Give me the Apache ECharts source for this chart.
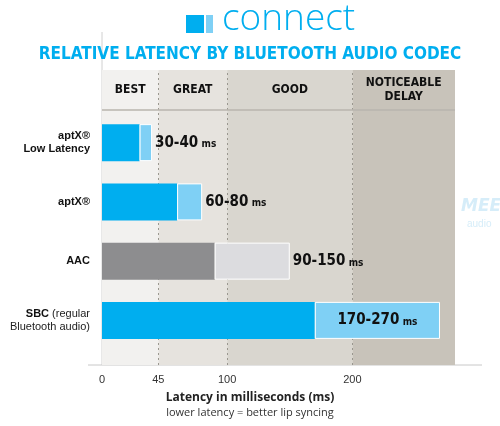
<!DOCTYPE html>
<html>
<head>
<meta charset="UTF-8">
<script src="https://cdn.jsdelivr.net/npm/echarts@6/dist/echarts.min.js"></script>
<style>body{margin:0;background:#fff}#main{width:500px;height:426px}</style>
</head>
<body>
<div id="main"></div>
<script>
var codecs = ['aptX®\nLow Latency', 'aptX®', 'AAC', 'SBC'];
var codecNotes = ['', '', '', ' (regular\nBluetooth audio)'];
var lowMs = [30, 60, 90, 170];
var highMs = [40, 80, 150, 270];
var zones = [['BEST', 0, 45], ['GREAT', 45, 100], ['GOOD', 100, 200], ['NOTICEABLE\nDELAY', 200, 282]];
var zoneColors = ['#f2f1ef', '#e6e3de', '#d9d6cf', '#c8c3ba'];
var ticks = [0, 45, 100, 200];

var cond = '"DejaVu Sans Condensed", "Liberation Sans Narrow", sans-serif';
var chart = echarts.init(document.getElementById('main'));

var bandData = zones.map(function (z, i) {
    return [{xAxis: z[1], itemStyle: {color: zoneColors[i]}}, {xAxis: z[2]}];
});
var headData = zones.map(function (z, i) {
    return [{xAxis: z[1], name: z[0], itemStyle: {color: zoneColors[i]}}, {xAxis: z[2]}];
});
var dashes = ticks.slice(1).map(function (t) { return {xAxis: t}; });
var dashStyle = {color: '#9a978f', type: [2, 3], width: 1};

var darkColors = ['#00aeef', '#00aeef', '#8d8d8f', '#00aeef'];
var lightColors = ['#7fd0f5', '#7fd0f5', '#dcdcdf', '#7fd0f5'];

chart.setOption({
    animation: false,
    title: {
        text: 'RELATIVE LATENCY BY BLUETOOTH AUDIO CODEC',
        left: 'center', top: 41,
        textStyle: {color: '#00aeef', fontFamily: cond, fontWeight: 'bold', fontSize: 17}
    },
    graphic: [
        {type: 'rect', shape: {x: 186, y: 15, width: 18, height: 18}, style: {fill: '#00aeef'}},
        {type: 'rect', shape: {x: 206, y: 15, width: 7, height: 18}, style: {fill: '#7fd0f5'}},
        {type: 'text', left: 222, top: 1, style: {text: 'connect', fill: '#00aeef', font: '300 37px "Open Sans", sans-serif'}},
        {type: 'text', left: 461, top: 198, style: {text: 'MEE', fill: '#d6edf9', font: 'italic bold 17px "DejaVu Sans", sans-serif'}},
        {type: 'text', left: 467, top: 219, style: {text: 'audio', fill: '#d6edf9', font: '10px sans-serif'}},
        {type: 'line', shape: {x1: 102, y1: 32, x2: 102, y2: 365}, style: {stroke: '#d0d0d0', lineWidth: 1}},
        {type: 'line', shape: {x1: 102, y1: 110, x2: 455, y2: 110}, style: {stroke: '#b8b5ae', lineWidth: 1.5}, z: 10},
        {type: 'line', shape: {x1: 88, y1: 365, x2: 482, y2: 365}, style: {stroke: '#c8c8c8', lineWidth: 1}},
        {type: 'text', left: 'center', top: 392, style: {text: 'Latency in milliseconds (ms)', fill: '#222', font: 'bold 12px "Open Sans", sans-serif'}},
        {type: 'text', left: 'center', top: 407, style: {text: 'lower latency = better lip syncing', fill: '#333', font: '11px "Open Sans", sans-serif'}}
    ],
    grid: [
        {left: 102, right: 45, top: 113, bottom: 76},
        {left: 102, right: 45, top: 70, height: 40},
        {left: 102, right: 45, top: 110, bottom: 61}
    ],
    xAxis: [
        {gridIndex: 0, type: 'value', min: 0, max: 282, show: false},
        {gridIndex: 1, type: 'value', min: 0, max: 282, show: false},
        {gridIndex: 2, type: 'value', min: 0, max: 282, splitLine: {show: false},
         axisLine: {show: false}, axisTick: {show: false},
         axisLabel: {color: '#333', fontSize: 11, margin: 9, customValues: ticks}}
    ],
    yAxis: [
        {gridIndex: 0, type: 'category', data: codecs, inverse: true,
         axisLine: {show: false}, axisTick: {show: false},
         axisLabel: {margin: 12, align: 'right',
                     formatter: function (v, i) { return '{b|' + v + '}' + (codecNotes[i] ? '{r|' + codecNotes[i] + '}' : ''); },
                     rich: {b: {color: '#111', fontSize: 11, fontWeight: 'bold', lineHeight: 13},
                            r: {color: '#222', fontSize: 11, lineHeight: 13}}}},
        {gridIndex: 1, type: 'category', data: ['h'], show: false},
        {gridIndex: 2, type: 'category', data: ['b'], show: false}
    ],
    series: [
        {type: 'bar', xAxisIndex: 2, yAxisIndex: 2, data: [], z: 0,
         markArea: {silent: true, data: bandData},
         markLine: {silent: true, symbol: 'none', label: {show: false}, lineStyle: dashStyle, data: dashes}},
        {type: 'bar', stack: 'l', xAxisIndex: 0, yAxisIndex: 0, barWidth: 37, z: 5,
         data: lowMs.map(function (v, i) { return {value: v, itemStyle: {color: darkColors[i]}}; })},
        {type: 'bar', stack: 'l', xAxisIndex: 0, yAxisIndex: 0, barWidth: 37, z: 5,
         data: highMs.map(function (v, i) {
             return {value: v - lowMs[i], itemStyle: {color: lightColors[i], borderColor: '#fff', borderWidth: 1},
                     label: {position: i === 3 ? 'inside' : 'right'}};
         }),
         label: {show: true, distance: 3,
                 formatter: function (p) { return '{n|' + lowMs[p.dataIndex] + '-' + highMs[p.dataIndex] + '} {u|ms}'; },
                 rich: {n: {fontFamily: cond, fontWeight: 'bold', fontSize: 15, color: '#111'},
                        u: {fontFamily: cond, fontWeight: 'bold', fontSize: 10, color: '#111', padding: [4, 0, 0, 0]}}}},
        {type: 'bar', xAxisIndex: 1, yAxisIndex: 1, data: [],
         markArea: {silent: true, data: headData,
                    label: {position: 'inside', color: '#111', fontFamily: cond, fontWeight: 'bold', fontSize: 12, lineHeight: 14}},
         markLine: {silent: true, symbol: 'none', label: {show: false}, lineStyle: dashStyle, data: dashes}}
    ]
});
</script>
</body>
</html>
